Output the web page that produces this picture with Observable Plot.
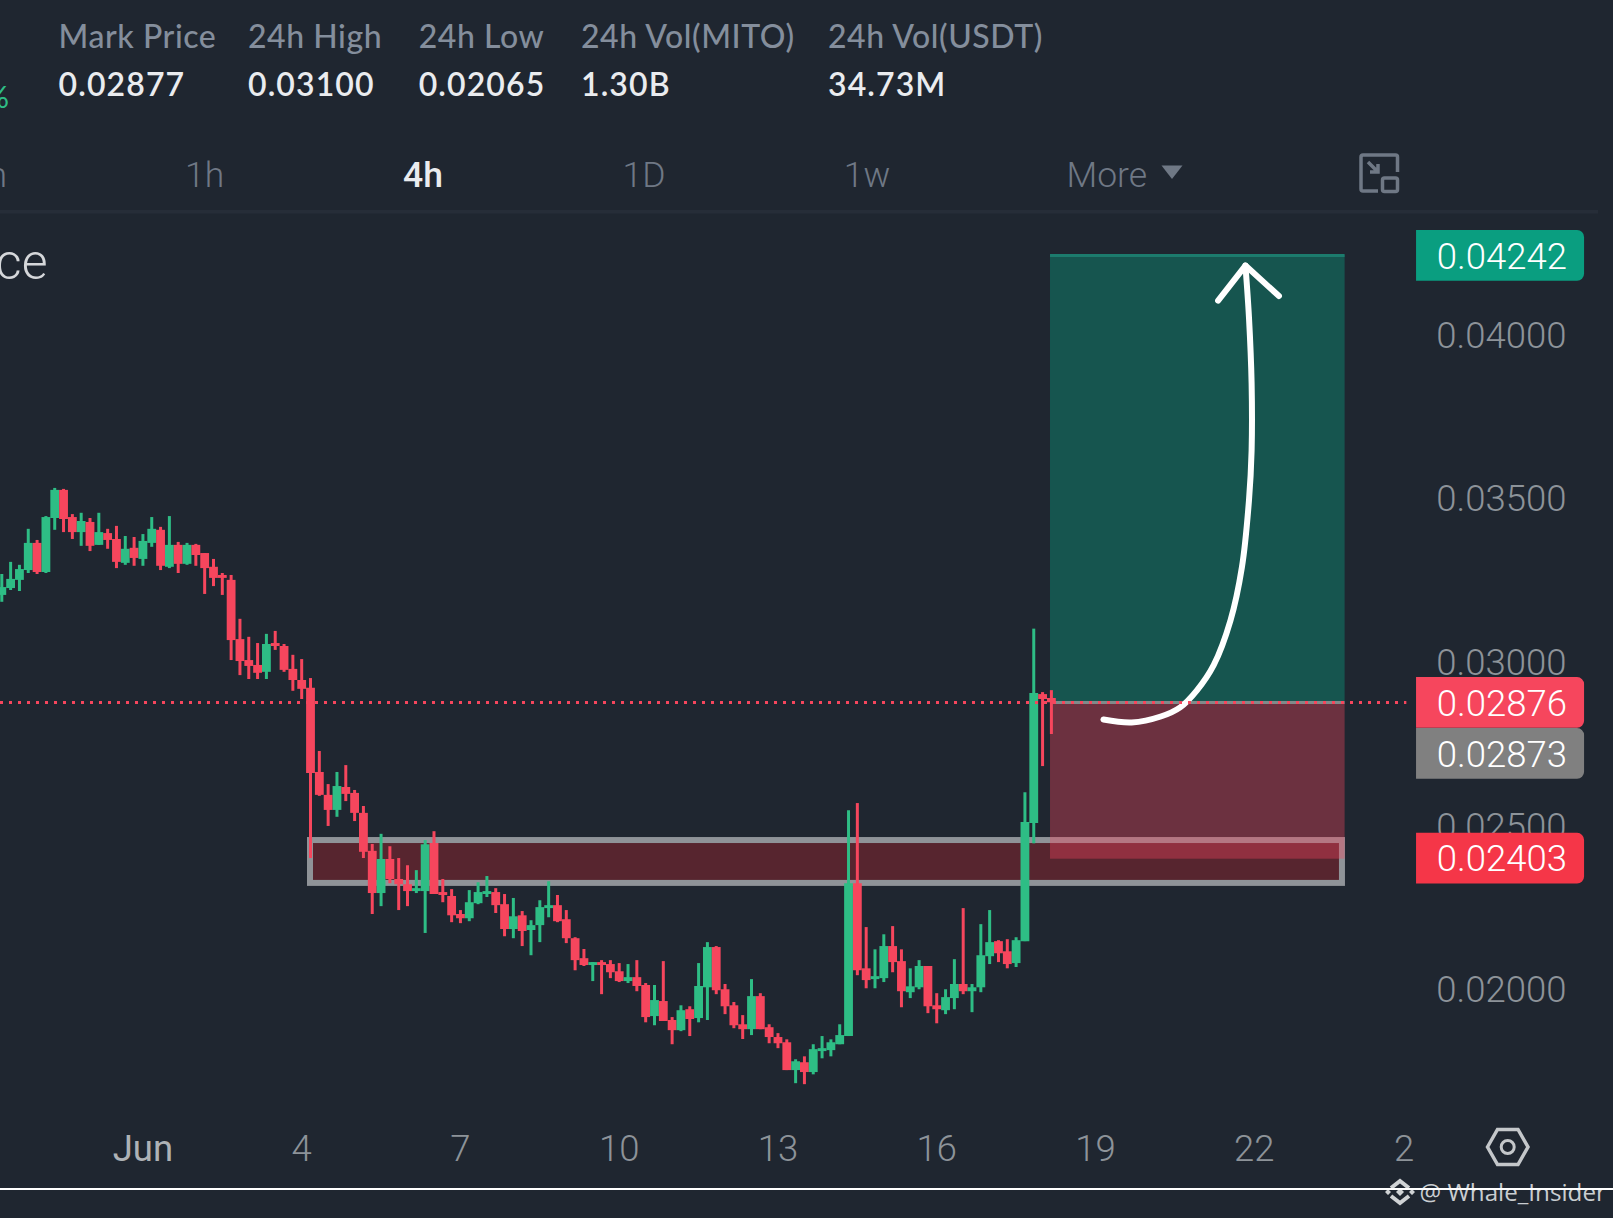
<!DOCTYPE html>
<html><head><meta charset="utf-8">
<script src="https://cdn.jsdelivr.net/npm/d3@7"></script>
<script src="https://cdn.jsdelivr.net/npm/@observablehq/plot@0.6"></script>
<style>
html,body{margin:0;padding:0;background:#1F2630;}
#wrap{position:relative;width:1613px;height:1218px;overflow:hidden;background:#1F2630;}
#wrap svg{position:absolute;left:0;top:0;}
</style></head><body><div id="wrap"></div>
<script>
// prices in units of 0.00001 USDT; one 4h candle per index
const opens=[3203,3224,3249,3279,3362,3273,3438,3524,3441,3395,
3426,3356,3392,3374,3301,3347,3313,3362,3402,3289,
3356,3298,3356,3331,3289,3264,3249,3068,3004,2989,
2968,3056,3047,2977,2943,2919,2662,2592,2546,2616,
2598,2537,2421,2292,2396,2335,2319,2298,2298,2445,
2295,2283,2228,2215,2261,2289,2295,2258,2182,2224,
2179,2194,2246,2255,2212,2154,2093,2072,2081,2075,
2053,2023,2035,2011,1916,1962,1904,1873,1937,1910,
2004,2127,1998,1949,1891,1876,1977,1882,1852,1836,
1751,1775,1745,1809,1812,1830,1855,2322,2062,2029,
2032,2130,2084,1989,2004,2069,1949,1934,1971,2014,
1992,2004,2099,2145,2114,2078,2145,2506,2900,2888];
const closes=[3227,3252,3282,3362,3273,3441,3524,3435,3395,3429,
3353,3395,3371,3304,3344,3316,3368,3405,3292,3356,
3298,3356,3325,3285,3255,3255,3065,3001,2986,2965,
3053,3047,2974,2943,2916,2659,2592,2546,2619,2595,
2537,2418,2292,2396,2335,2319,2298,2307,2441,2289,
2286,2224,2215,2264,2295,2298,2255,2182,2221,2176,
2194,2249,2255,2206,2154,2087,2072,2081,2072,2050,
2023,2035,2008,1913,1965,1901,1873,1934,1907,2008,
2127,1995,1946,1888,1876,1977,1876,1852,1833,1751,
1778,1745,1815,1818,1836,1858,2322,2056,2026,2038,
2130,2081,1992,2007,2069,1946,1937,1974,2014,1992,
2004,2102,2142,2108,2075,2148,2509,2903,2885,2875];
const highs=[3267,3304,3295,3405,3371,3444,3530,3527,3450,3454,
3438,3454,3405,3414,3383,3380,3389,3441,3411,3444,
3365,3362,3359,3331,3313,3270,3264,3130,3075,3056,
3084,3093,3053,3020,3007,2949,2726,2625,2662,2683,
2607,2558,2442,2473,2435,2399,2377,2362,2454,2481,
2335,2304,2240,2301,2325,2344,2307,2289,2277,2237,
2209,2270,2328,2286,2240,2157,2121,2081,2087,2087,
2078,2075,2087,2017,2011,2084,1913,1949,1946,2078,
2142,2130,2014,1959,1919,2029,1986,1891,1864,1845,
1784,1793,1830,1855,1845,1891,2545,2567,2188,2120,
2166,2191,2120,2062,2087,2069,1986,1998,2090,2246,
2014,2197,2240,2148,2151,2157,2600,3100,2906,2912];
const lows=[3182,3218,3215,3270,3267,3270,3402,3395,3374,3353,
3337,3356,3344,3285,3295,3292,3292,3350,3279,3285,
3270,3295,3292,3206,3230,3203,3004,2958,2946,2946,
2946,3035,2968,2910,2885,2399,2589,2497,2525,2573,
2512,2399,2228,2252,2322,2240,2252,2292,2170,2289,
2264,2203,2200,2206,2258,2280,2231,2160,2154,2130,
2102,2142,2218,2203,2139,2056,2069,2023,1983,2032,
2020,2017,1992,1897,1888,1901,1830,1870,1855,1897,
1904,1983,1922,1879,1846,1858,1876,1833,1818,1751,
1711,1708,1738,1787,1793,1830,1855,2041,2001,2001,
2020,2050,1943,1971,1998,1925,1894,1922,1937,1983,
1928,1989,2075,2081,2062,2066,2145,2444,2680,2778];
const candles=opens.map((o,i)=>({i,o:o/1e5,c:closes[i]/1e5,h:highs[i]/1e5,l:lows[i]/1e5,up:closes[i]>=o}));

const priceTicks=[0.02,0.025,0.03,0.035,0.04];
const timeTicks=[34,52,70,88,106,124,142,159];
const timeLabels=["4","7","10","13","16","19","22","2"];
const monthTick=[16], monthLabel=["Jun"];

const entry=0.02876, target=0.04242, stopLabel=0.02403, stopEdge=0.02397, markPrice=0.02873;
const boxStart=118.9, boxEnd=152.3;
const zone={x1:35,x2:152,y1:0.02323,y2:0.02454};
const curveI=[124.9,128.1,131.4,133.6,135.5,137.4,139.3,140.6,141.4,141.7,141.7,141.4,141];
const curveP=[2824,2815,2833,2861,2913,2990,3126,3289,3493,3646,3851,4053,4211];
const headI=[137.9,141,144.8];
const headP=[4104,4211,4118];
const curve=curveI.map((x,k)=>({x,y:curveP[k]/1e5}));
const head=headI.map((x,k)=>({x,y:headP[k]/1e5}));

const tags=[
 {v:target,fill:"#0A9E80",dy:0.5,t:"0.04242"},
 {v:entry,fill:"#F6465D",dy:0.5,t:"0.02876"},
 {v:entry,fill:"#808080",dy:51.5,t:markPrice.toFixed(5)},
 {v:stopLabel,fill:"#F53648",dy:1.5,t:"0.02403"}
];
const tagX1=160.4,tagX2=179.45,tagHalf=0.000775,tagTextX=177.45;

const gray="#8F9398";
const F="Roboto, sans-serif";
const plot=Plot.plot({
  width:1613,height:1218,margin:0,
  x:{type:"linear",domain:[-0.1474,182.73],range:[0,1613]},
  y:{type:"linear",domain:[0.01299,0.05021],range:[1218,0]},
  style:{background:"transparent",fontFamily:F},
  marks:[
    Plot.axisY(priceTicks,{anchor:"left",tickSize:0,tickPadding:0,dx:1566,dy:1.5,label:null,
      tickFormat:d=>d.toFixed(5),fontSize:36.5,fontWeight:300,fill:"#8D9399"}),
    Plot.axisX(timeTicks,{anchor:"bottom",tickSize:0,tickPadding:0,dy:-83.5,label:null,
      tickFormat:(d,k)=>timeLabels[timeTicks.indexOf(d)],fontSize:36.5,fontWeight:300,fill:"#8D9399"}),
    Plot.axisX(monthTick,{anchor:"bottom",tickSize:0,tickPadding:0,dy:-83.5,label:null,
      tickFormat:()=>monthLabel[0],fontSize:36.5,fontWeight:400,fill:"#AEB2B6"}),
    // marked zone
    Plot.rect([zone],{x1:"x1",x2:"x2",y1:"y1",y2:"y2",fill:"#57252F",stroke:gray,strokeWidth:6}),
    // target and stop boxes
    Plot.rect([{}],{x1:boxStart,x2:boxEnd,y1:entry,y2:target,fill:"#0A9E80",fillOpacity:0.4}),
    Plot.rect([{}],{x1:boxStart,x2:boxEnd,y1:stopEdge,y2:entry,fill:"#F6465D",fillOpacity:0.36}),
    Plot.ruleY([target],{x1:boxStart,x2:boxEnd,stroke:"#1C7B6D",strokeWidth:3}),
    Plot.ruleY([entry],{x1:boxStart,x2:boxEnd,stroke:"#808A8A",strokeWidth:3}),
    // candles
    Plot.ruleX(candles,{x:"i",y1:"l",y2:"h",stroke:d=>d.up?"#2EBD85":"#F6465D",strokeWidth:3}),
    Plot.ruleX(candles,{x:"i",y1:"o",y2:"c",stroke:d=>d.up?"#2EBD85":"#F6465D",strokeWidth:8.82}),
    // hand drawn arrow
    Plot.line(curve,{x:"x",y:"y",curve:"catmull-rom",stroke:"#fff",strokeWidth:6,strokeLinecap:"round"}),
    Plot.line(head,{x:"x",y:"y",curve:"linear",stroke:"#fff",strokeWidth:6,strokeLinecap:"round",strokeLinejoin:"round"}),
    // last price line
    Plot.ruleY([entry],{x1:-0.1474,x2:159.3,stroke:"#F6465D",strokeWidth:3,strokeDasharray:"3,6"}),
    // price tags
    ...tags.map(t=>Plot.rect([t],{x1:tagX1,x2:tagX2,y1:d=>d.v-tagHalf,y2:d=>d.v+tagHalf,fill:"fill",dy:t.dy,rx2:7})),
    ...tags.map(t=>Plot.text([t],{x:tagTextX,y:"v",text:"t",dy:t.dy+1,textAnchor:"end",fontSize:36.5,fontWeight:300,fill:"#fff"}))
  ]
});
document.getElementById("wrap").appendChild(plot);

// terminal chrome around the chart
const labels=["Mark Price","24h High","24h Low","24h Vol(MITO)","24h Vol(USDT)"];
const values=["0.02877","0.03100","0.02065","1.30B","34.73M"];
const cols=[58.6,248,418.7,581,828];
const tabs=[["1h",204.7,false],["4h",423,true],["1D",644,false],["1w",867,false]];
const NS="http://www.w3.org/2000/svg";
const o=d3.select(document.createElementNS(NS,"svg")).attr("width",1613).attr("height",1218);
const txt=(s,x,y,size,fill,w,fam,anch)=>o.append("text").text(s).attr("x",x).attr("y",y).attr("font-size",size)
  .attr("fill",fill).attr("font-weight",w).attr("font-family",fam).attr("text-anchor",anch||"start");
const H="Lato, sans-serif";
labels.forEach((s,k)=>txt(s,cols[k],48,32,"#848E9C",500,H).attr("letter-spacing",0.55));
values.forEach((s,k)=>txt(s,cols[k],96,32,"#EAECEF",600,H).attr("letter-spacing",1.1));
txt("%",9,108,31,"#2EBD85",400,H,"end");
txt("m",7,187,35.5,"#6F7885",300,F,"end");
tabs.forEach(([s,x,b])=>txt(s,x,187,35.5,b?"#EAECEF":"#6F7885",b?500:300,F,"middle"));
txt("More",1066.5,187,35.5,"#6F7885",300,F);
txt("ce",47.5,279,50,"#D5D7DA",300,F,"end");
o.append("rect").attr("x",0).attr("y",210).attr("width",1598).attr("height",3.5).attr("fill","#262D38");
o.append("path").attr("d","M1161.5 165.5H1182.5L1172 179Z").attr("fill","#6F7885");
o.append("path").attr("d","M1378 191H1363Q1361 191 1361 189V157Q1361 155 1363 155H1395.5Q1397.5 155 1397.5 157V172M1368 162L1378 172M1370 172H1378V164").attr("fill","none").attr("stroke","#6F7885").attr("stroke-width",3.5);
o.append("rect").attr("x",1382.5).attr("y",178).attr("width",15).attr("height",13.5).attr("rx",2).attr("fill","none").attr("stroke","#6F7885").attr("stroke-width",3.5);
o.append("path").attr("d","M1487.5 1147L1497.5 1129.5H1518L1528 1147L1518 1164.5H1497.5Z").attr("fill","none").attr("stroke","#C4C7CA").attr("stroke-width",3.5);
o.append("circle").attr("cx",1507.7).attr("cy",1147).attr("r",6.5).attr("fill","none").attr("stroke","#C4C7CA").attr("stroke-width",3);
// watermark
o.append("path").attr("d","M1391 1188L1400 1181L1409 1188M1391 1196L1400 1203L1409 1196").attr("fill","none").attr("stroke","#D0D3D5").attr("stroke-width",4);
o.append("path").attr("d","M1388 1189L1391 1192L1388 1195L1385 1192ZM1412 1189L1415 1192L1412 1195L1409 1192ZM1400 1188L1404 1192L1400 1196L1396 1192Z").attr("fill","#D0D3D5");
txt("@ Whale_Insider",1419.5,1201,24.2,"#C9CDD0",400,"'Open Sans', sans-serif");
o.append("rect").attr("x",0).attr("y",1188).attr("width",1613).attr("height",2).attr("fill","#fff");
document.getElementById("wrap").appendChild(o.node());
</script></body></html>
